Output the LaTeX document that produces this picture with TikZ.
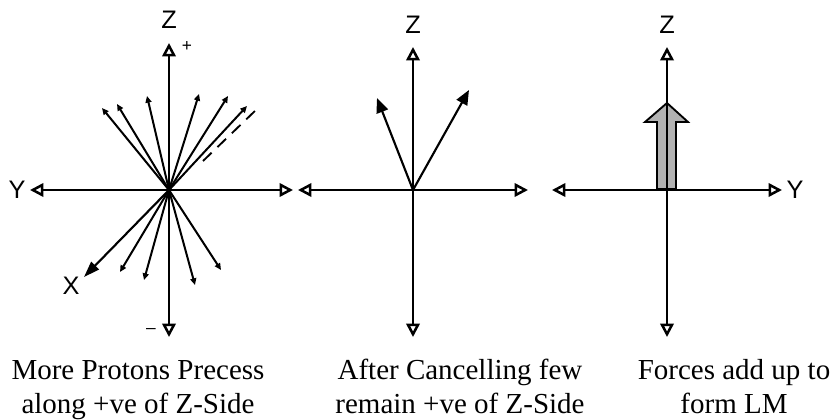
\documentclass[tikz,border=0pt]{standalone}
\usepackage{fontspec}
\setmainfont{Liberation Serif}
\newfontfamily\labelfont{Liberation Sans}
\usetikzlibrary{arrows.meta}
\begin{document}
\begin{tikzpicture}[x=0.75pt,y=-0.75pt,
  axis/.style={line width=1.9pt,{Triangle[open,length=10pt,width=10pt]}-{Triangle[open,length=10pt,width=10pt]}},
  ray/.style={line width=1.5pt,-{Triangle[length=5pt,width=4.5pt]}},
  bigray/.style={line width=1.6pt,-{Triangle[length=11pt,width=9pt]}},
  xray/.style={line width=1.6pt,-{Triangle[length=12pt,width=8pt]}},
  axlabel/.style={font=\labelfont\fontsize{19pt}{19pt}\selectfont,inner sep=0pt},
  sign/.style={font=\labelfont\fontsize{13pt}{13pt}\selectfont,inner sep=0pt},
  caption/.style={font=\fontsize{21.75pt}{25.5pt}\selectfont,align=center,inner sep=0pt,anchor=base}]
\useasboundingbox (0,0) rectangle (835,420);

% ---------- panel 1 ----------
\coordinate (o1) at (169,190);
\coordinate (z1t) at (169,43);
\coordinate (z1b) at (169,337);
\coordinate (y1l) at (30,190);
\coordinate (y1r) at (293,190);
\coordinate (r1a) at (102,108);
\coordinate (r1b) at (117,104);
\coordinate (r1c) at (147,96);
\coordinate (r1d) at (199,94);
\coordinate (r1e) at (228,96);
\coordinate (r1f) at (247,106);
\coordinate (r1g) at (120,272);
\coordinate (r1h) at (144,280);
\coordinate (r1i) at (195,285);
\coordinate (r1j) at (221,270);
\coordinate (xend) at (84,277);
\coordinate (d1s) at (203,161);
\coordinate (d1e) at (257,109);
\foreach \n in {a,b,c,d,e,f,g,h,i,j} {\draw[ray] (o1) -- (r1\n);}
\draw[xray] (o1) -- (xend);
\draw[line width=1.4pt,dash pattern=on 9pt off 6pt] (d1s) -- (d1e);
\draw[axis] (y1l) -- (y1r);
\draw[axis] (z1b) -- (z1t);
\node[axlabel] (zl1) at (169,20) {Z};
\node[axlabel] (yl1) at (17,190) {Y};
\node[axlabel] (xl1) at (71,286) {X};
\node[sign] (plus1) at (187,47) {+};
\node[sign] (minus1) at (151,331) {\textendash};
\node[caption] (cap1) at (138,413) {More Protons Precess\\along +ve of Z-Side};

% ---------- panel 2 ----------
\coordinate (o2) at (413,190);
\coordinate (z2t) at (413,47);
\coordinate (z2b) at (413,337);
\coordinate (y2l) at (298,190);
\coordinate (y2r) at (528,190);
\coordinate (r2a) at (377,98);
\coordinate (r2b) at (469,90);
\draw[axis] (y2l) -- (y2r);
\draw[axis] (z2b) -- (z2t);
\draw[bigray] (o2) -- (r2a);
\draw[bigray] (o2) -- (r2b);
\node[axlabel] (zl2) at (413,25) {Z};
\node[caption] (cap2) at (460,413) {After Cancelling few\\remain +ve of Z-Side};

% ---------- panel 3 ----------
\coordinate (o3) at (667,190);
\coordinate (z3t) at (667,47);
\coordinate (z3b) at (667,337);
\coordinate (y3l) at (552,190);
\coordinate (y3r) at (782,190);
\draw[line width=1.4pt,fill=black!30]
  (657,189) -- (657,122) -- (645,122) -- (667,103) -- (688,122) -- (676,122) -- (676,189) -- cycle;
\draw[axis] (y3l) -- (y3r);
\draw[axis] (z3b) -- (z3t);
\node[axlabel] (zl3) at (667,25) {Z};
\node[axlabel] (yl3) at (795,190) {Y};
\node[caption] (cap3) at (734,413) {Forces add up to\\form LM};
\end{tikzpicture}
\end{document}
